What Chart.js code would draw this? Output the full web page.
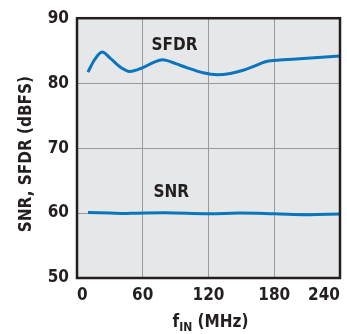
<!DOCTYPE html>
<html>
<head>
<meta charset="utf-8">
<script src="https://cdn.jsdelivr.net/npm/chart.js@4"></script>
<style>
  html, body { margin: 0; padding: 0; background: #fff; }
  #wrap { width: 347px; height: 334px; }
</style>
</head>
<body>
<div id="wrap"><canvas id="snrChart" width="347" height="334"></canvas></div>
<script>
const FONT = '"Liberation Sans Narrow", "DejaVu Sans Condensed", Arial, sans-serif';

const sfdrFreq = [10, 16, 23, 30, 40, 48, 60, 70, 78, 90, 100, 115, 128, 140, 150, 160, 172, 180, 200, 220, 240];
const sfdrVals = [81.7, 83.6, 84.8, 83.9, 82.4, 81.8, 82.4, 83.2, 83.6, 83.0, 82.4, 81.6, 81.3, 81.5, 81.9, 82.5, 83.3, 83.5, 83.7, 83.95, 84.2];

const snrFreq = [10, 30, 48, 80, 120, 148, 180, 210, 240];
const snrVals = [60.1, 60.0, 59.95, 60.05, 59.9, 60.0, 59.9, 59.75, 59.85];

const xTicks = [0, 60, 120, 180, 240];
const yTicks = [50, 60, 70, 80, 90];

const seriesLabels = [
  { text: 'SFDR', x: 89, y: 85.8 },
  { text: 'SNR', x: 86, y: 63.1 }
];

const toXY = (xs, ys) => xs.map((x, i) => ({ x: x, y: ys[i] }));

const decor = {
  id: 'decor',
  beforeDraw(chart) {
    const { ctx, chartArea: a } = chart;
    ctx.save();
    ctx.fillStyle = '#e6e7e8';
    ctx.fillRect(a.left, a.top, a.right - a.left, a.bottom - a.top);
    ctx.restore();
  },
  afterDatasetsDraw(chart) {
    const { ctx, chartArea: a, scales } = chart;
    ctx.save();
    ctx.strokeStyle = '#231f20';
    ctx.lineWidth = 2.5;
    ctx.strokeRect(a.left, a.top, a.right - a.left, a.bottom - a.top);

    ctx.fillStyle = '#231f20';
    ctx.font = 'bold 17px ' + FONT;
    ctx.textAlign = 'center';
    ctx.textBaseline = 'middle';
    seriesLabels.forEach(l => {
      ctx.fillText(l.text, scales.x.getPixelForValue(l.x), scales.y.getPixelForValue(l.y));
    });

    // y axis title
    ctx.save();
    ctx.translate(27, (a.top + a.bottom) / 2 + 6);
    ctx.rotate(-Math.PI / 2);
    ctx.fillText('SNR, SFDR (dBFS)', 0, 0);
    ctx.restore();

    // x axis title with subscript
    ctx.textBaseline = 'alphabetic';
    ctx.textAlign = 'left';
    const big = 'bold 17px ' + FONT, small = 'bold 12px ' + FONT;
    ctx.font = big; const wf = ctx.measureText('f').width;
    ctx.font = small; const ws = ctx.measureText('IN').width;
    ctx.font = big; const wr = ctx.measureText(' (MHz)').width;
    let x0 = (a.left + a.right) / 2 + 2 - (wf + ws + wr) / 2;
    const base = 327;
    ctx.font = big; ctx.fillText('f', x0, base); x0 += wf;
    ctx.font = small; ctx.fillText('IN', x0, base + 4); x0 += ws;
    ctx.font = big; ctx.fillText(' (MHz)', x0, base);
    ctx.restore();
  }
};

const ctx = document.getElementById('snrChart').getContext('2d');
const chart = new Chart(ctx, {
  type: 'line',
  data: {
    datasets: [{
      label: 'SFDR',
      data: toXY(sfdrFreq, sfdrVals),
      borderColor: '#0a75bd',
      borderWidth: 3,
      pointRadius: 0,
      tension: 0.4,
      cubicInterpolationMode: 'monotone'
    }, {
      label: 'SNR',
      data: toXY(snrFreq, snrVals),
      borderColor: '#0a75bd',
      borderWidth: 3,
      pointRadius: 0,
      tension: 0.4
    }]
  },
  options: {
    responsive: false,
    animation: false,
    layout: { padding: { top: 12, right: 7, left: 0, bottom: 0 } },
    plugins: { legend: { display: false }, tooltip: { enabled: false } },
    scales: {
      x: {
        type: 'linear',
        min: 0,
        max: 240,
        afterBuildTicks: s => { s.ticks = xTicks.map(v => ({ value: v })); },
        afterFit: s => { s.height = 56; },
        grid: { color: '#9a9a9a', lineWidth: 1, drawTicks: false },
        border: { display: false },
        ticks: {
          color: '#231f20',
          font: { family: FONT, size: 17, weight: 'bold' },
          padding: 7,
          align: 'inner',
          maxRotation: 0
        }
      },
      y: {
        min: 50,
        max: 90,
        afterBuildTicks: s => { s.ticks = yTicks.map(v => ({ value: v })); },
        afterFit: s => { s.width = 77; },
        grid: { color: '#9a9a9a', lineWidth: 1, drawTicks: false },
        border: { display: false },
        ticks: {
          color: '#231f20',
          font: { family: FONT, size: 17, weight: 'bold' },
          padding: 8
        }
      }
    }
  },
  plugins: [decor]
});
</script>
</body>
</html>
